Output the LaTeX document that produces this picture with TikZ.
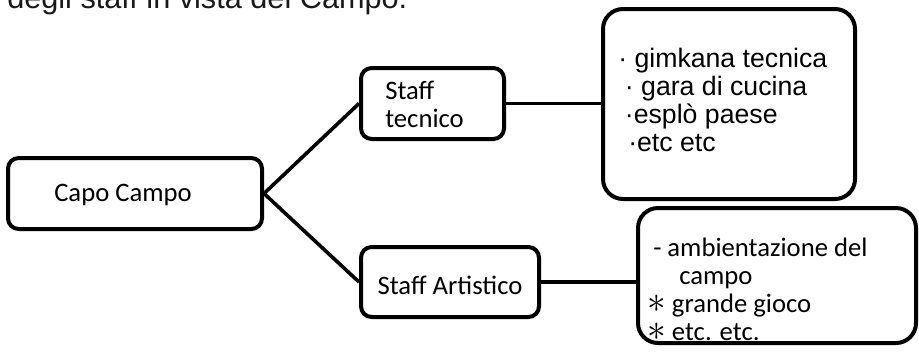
\documentclass[tikz,border=0pt]{standalone}
\usepackage{fontspec}
\usepackage{graphicx}
\setmainfont{Carlito}
\newfontfamily\grot{Liberation Sans}
\newcommand{\bigast}{\smash{\raisebox{-0.5pt}{\scalebox{1.35}{$\ast$}}}}
\begin{document}
\begin{tikzpicture}[x=0.75pt,y=-0.75pt,
  box/.style={draw=black,line width=3pt,fill=white,inner sep=0pt},
  conn/.style={draw=black,line width=2.7pt},
  cal/.style={font=\fontsize{20}{21}\selectfont,inner sep=0pt},
  calsmall/.style={font=\fontsize{20}{21}\selectfont,inner sep=0pt,align=left},
  grotxt/.style={font=\grot\fontsize{20}{21}\selectfont,inner sep=0pt,align=left}]
\clip (0,0) rectangle (919,355);
\useasboundingbox (0,0) rectangle (919,355);
% cut-off heading
\node[font=\grot\fontsize{23}{24}\selectfont,inner sep=0pt,anchor=base west,text=black!90] (head) at (7,8) {degli staff in vista del Campo.};
% boxes
\node[box,rounded corners=8pt,minimum width=254*0.75pt,minimum height=71*0.75pt] (capo) at (135,193.5) {};
\node[box,rounded corners=8pt,minimum width=143*0.75pt,minimum height=71*0.75pt] (tec) at (432.5,103.5) {};
\node[box,rounded corners=8pt,minimum width=178*0.75pt,minimum height=70*0.75pt] (art) at (450,282) {};
\node[box,rounded corners=15pt,minimum width=252*0.75pt,minimum height=190*0.75pt] (tbox) at (729,104) {};
\node[box,rounded corners=15pt,minimum width=278*0.75pt,minimum height=135*0.75pt] (abox) at (777,275.5) {};
% connectors
\draw[conn] (capo.east) -- (tec.west);
\draw[conn] (capo.east) -- (art.west);
\draw[conn] (tec.east) -- (tec.east -| tbox.west);
\draw[conn] (art.east) -- (art.east -| abox.west);
% texts
\node[cal] (capot) at (123,195) {Capo Campo};
\node[cal,align=left,anchor=west] (tect) at (385,104) {Staff\\tecnico};
\node[cal] (artt) at (450,285) {Staff Artistico};
\node[grotxt,anchor=west] (tlist) at (618,100) {· gimkana tecnica\\\hspace*{5pt}· gara di cucina\\\hspace*{5pt}·esplò paese\\\hspace*{7.5pt}·etc etc};
\node[calsmall,anchor=west] (alist) at (647,289) {\hspace*{4.5pt}- ambientazione del\\\hspace*{24pt}campo\\\bigast\ grande gioco\\\bigast\ etc. etc.};
\end{tikzpicture}
\end{document}
